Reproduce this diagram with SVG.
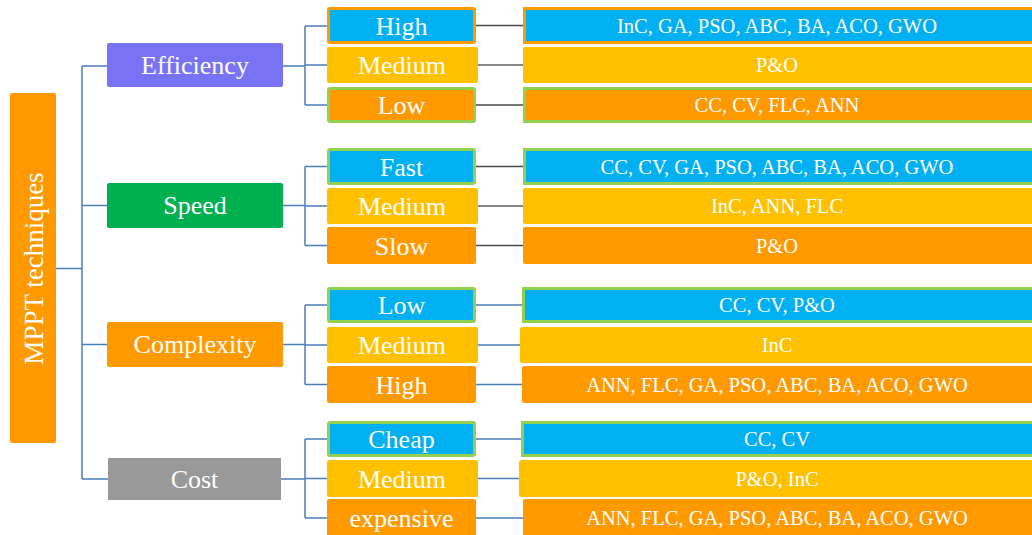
<svg xmlns="http://www.w3.org/2000/svg" width="1032" height="535" viewBox="0 0 1032 535">
<style>
.blue{fill:#00B0F0}
.yel{fill:#FFC000}
.org{fill:#FF9900}
.bo{stroke:#FF9900;stroke-width:3}
.bg{stroke:#92D050;stroke-width:3}
.cb{stroke:#4A7EBB;stroke-width:1.5;fill:none}
.cd{stroke:#4a4a4a;stroke-width:1.5;fill:none}
.ck{stroke:#111111;stroke-width:1.2;fill:none}
</style>
<g id="connectors">
<path class="cb" d="M56,268.5H82M82,66V479M82,66H107M82,205.5H107M82,344.5H107M82,479H108"/>
<path class="cb" d="M283,66H305M305,26V105M305,26H327M305,65H327M305,105H327"/>
<path class="cb" d="M283,205.5H305M305,166.5V245.5M305,166.5H327M305,206H327M305,245.5H327"/>
<path class="cb" d="M283,344.5H305M305,305V384.5M305,305H327M305,345H327M305,384.5H327"/>
<path class="cb" d="M281,479H305M305,439V518M305,439H327M305,478.5H327M305,518H327"/>
<path class="cd" d="M476,25.5H523M476,105H523M476,166.5H523M476,245.5H523"/>
<path class="ck" d="M478,65H523M478,206H523"/>
<path class="cb" d="M476,305H522M478,345H520M476,384.5H522M476,439H521M478,478.5H519M476,518H523"/>
</g>
<g font-family="Liberation Serif" fill="#ffffff" text-anchor="middle">
<g id="root">
<rect x="10" y="93" width="46" height="350" rx="2" fill="#FF9900"/>
<text font-family="Liberation Serif" fill="#ffffff" font-size="27" transform="translate(43,268.5) rotate(-90)">MPPT techniques</text>
</g>
<g id="efficiency" font-size="26">
<rect x="107" y="43" width="176" height="44" rx="2" fill="#7873F5"/>
<text font-family="Liberation Serif" fill="#ffffff" x="195" y="74">Efficiency</text>
</g>
<g id="speed" font-size="26">
<rect x="107" y="183" width="176" height="45" rx="2" fill="#00B050"/>
<text font-family="Liberation Serif" fill="#ffffff" x="195" y="214">Speed</text>
</g>
<g id="complexity" font-size="26">
<rect x="107" y="322" width="176" height="45" rx="2" fill="#FF9900"/>
<text font-family="Liberation Serif" fill="#ffffff" x="195" y="353">Complexity</text>
</g>
<g id="cost" font-size="26">
<rect x="108" y="458" width="173" height="42" fill="#999999"/>
<text font-family="Liberation Serif" fill="#ffffff" x="194.5" y="488">Cost</text>
</g>
<g id="eff-high" font-size="26">
<rect class="blue bo" x="328.5" y="8.5" width="146" height="34" rx="1.5"/>
<text font-family="Liberation Serif" fill="#ffffff" x="401.5" y="34.5">High</text>
</g>
<g id="eff-medium" font-size="26">
<rect class="yel" x="327" y="47" width="151" height="36" rx="2"/>
<text font-family="Liberation Serif" fill="#ffffff" x="402" y="74">Medium</text>
</g>
<g id="eff-low" font-size="26">
<rect class="org bg" x="328.5" y="88.5" width="146" height="33" rx="1.5"/>
<text font-family="Liberation Serif" fill="#ffffff" x="401.5" y="114">Low</text>
</g>
<g id="spd-fast" font-size="26">
<rect class="blue bg" x="328.5" y="149.5" width="146" height="34" rx="1.5"/>
<text font-family="Liberation Serif" fill="#ffffff" x="401.5" y="175.5">Fast</text>
</g>
<g id="spd-medium" font-size="26">
<rect class="yel" x="327" y="188" width="151" height="36" rx="2"/>
<text font-family="Liberation Serif" fill="#ffffff" x="402" y="215">Medium</text>
</g>
<g id="spd-slow" font-size="26">
<rect class="org" x="327" y="227" width="149" height="37" rx="2"/>
<text font-family="Liberation Serif" fill="#ffffff" x="401.5" y="254.5">Slow</text>
</g>
<g id="cpx-low" font-size="26">
<rect class="blue bg" x="328.5" y="288.5" width="146" height="33" rx="1.5"/>
<text font-family="Liberation Serif" fill="#ffffff" x="401.5" y="314">Low</text>
</g>
<g id="cpx-medium" font-size="26">
<rect class="yel" x="327" y="327" width="151" height="36" rx="2"/>
<text font-family="Liberation Serif" fill="#ffffff" x="402" y="354">Medium</text>
</g>
<g id="cpx-high" font-size="26">
<rect class="org" x="327" y="366" width="149" height="37" rx="2"/>
<text font-family="Liberation Serif" fill="#ffffff" x="401.5" y="393.5">High</text>
</g>
<g id="cst-cheap" font-size="26">
<rect class="blue bg" x="328.5" y="422.5" width="146" height="33" rx="1.5"/>
<text font-family="Liberation Serif" fill="#ffffff" x="401.5" y="448">Cheap</text>
</g>
<g id="cst-medium" font-size="26">
<rect class="yel" x="327" y="460" width="151" height="37" rx="2"/>
<text font-family="Liberation Serif" fill="#ffffff" x="402" y="487.5">Medium</text>
</g>
<g id="cst-expensive" font-size="26">
<rect class="org" x="327" y="499" width="149" height="40" rx="2"/>
<text font-family="Liberation Serif" fill="#ffffff" x="401.5" y="527">expensive</text>
</g>
<g id="m-eff-high" font-size="20.5">
<rect class="blue bo" x="524.5" y="8.5" width="512" height="34"/>
<text font-family="Liberation Serif" fill="#ffffff" x="777" y="32.5">InC, GA, PSO, ABC, BA, ACO, GWO</text>
</g>
<g id="m-eff-medium" font-size="20.5">
<rect class="yel" x="523" y="47" width="512" height="36" rx="2"/>
<text font-family="Liberation Serif" fill="#ffffff" x="777" y="72">P&amp;O</text>
</g>
<g id="m-eff-low" font-size="20.5">
<rect class="org bg" x="524.5" y="88.5" width="512" height="33"/>
<text font-family="Liberation Serif" fill="#ffffff" x="777" y="112">CC, CV, FLC, ANN</text>
</g>
<g id="m-spd-fast" font-size="20.5">
<rect class="blue bg" x="524.5" y="149.5" width="512" height="34"/>
<text font-family="Liberation Serif" fill="#ffffff" x="777" y="173.5">CC, CV, GA, PSO, ABC, BA, ACO, GWO</text>
</g>
<g id="m-spd-medium" font-size="20.5">
<rect class="yel" x="523" y="188" width="512" height="36" rx="2"/>
<text font-family="Liberation Serif" fill="#ffffff" x="777" y="213">InC, ANN, FLC</text>
</g>
<g id="m-spd-slow" font-size="20.5">
<rect class="org" x="523" y="227" width="512" height="37" rx="2"/>
<text font-family="Liberation Serif" fill="#ffffff" x="777" y="252.5">P&amp;O</text>
</g>
<g id="m-cpx-low" font-size="20.5">
<rect class="blue bg" x="523.5" y="288.5" width="512" height="33"/>
<text font-family="Liberation Serif" fill="#ffffff" x="777" y="312">CC, CV, P&amp;O</text>
</g>
<g id="m-cpx-medium" font-size="20.5">
<rect class="yel" x="520" y="327" width="515" height="36" rx="2"/>
<text font-family="Liberation Serif" fill="#ffffff" x="777" y="352">InC</text>
</g>
<g id="m-cpx-high" font-size="20.5">
<rect class="org" x="522" y="366" width="513" height="37" rx="2"/>
<text font-family="Liberation Serif" fill="#ffffff" x="777" y="391.5">ANN, FLC, GA, PSO, ABC, BA, ACO, GWO</text>
</g>
<g id="m-cst-cheap" font-size="20.5">
<rect class="blue bg" x="522.5" y="422.5" width="513" height="33"/>
<text font-family="Liberation Serif" fill="#ffffff" x="777" y="446">CC, CV</text>
</g>
<g id="m-cst-medium" font-size="20.5">
<rect class="yel" x="519" y="460" width="516" height="37" rx="2"/>
<text font-family="Liberation Serif" fill="#ffffff" x="777" y="485.5">P&amp;O, InC</text>
</g>
<g id="m-cst-expensive" font-size="20.5">
<rect class="org" x="523" y="499" width="512" height="40" rx="2"/>
<text font-family="Liberation Serif" fill="#ffffff" x="777" y="525">ANN, FLC, GA, PSO, ABC, BA, ACO, GWO</text>
</g>
</g>
</svg>
